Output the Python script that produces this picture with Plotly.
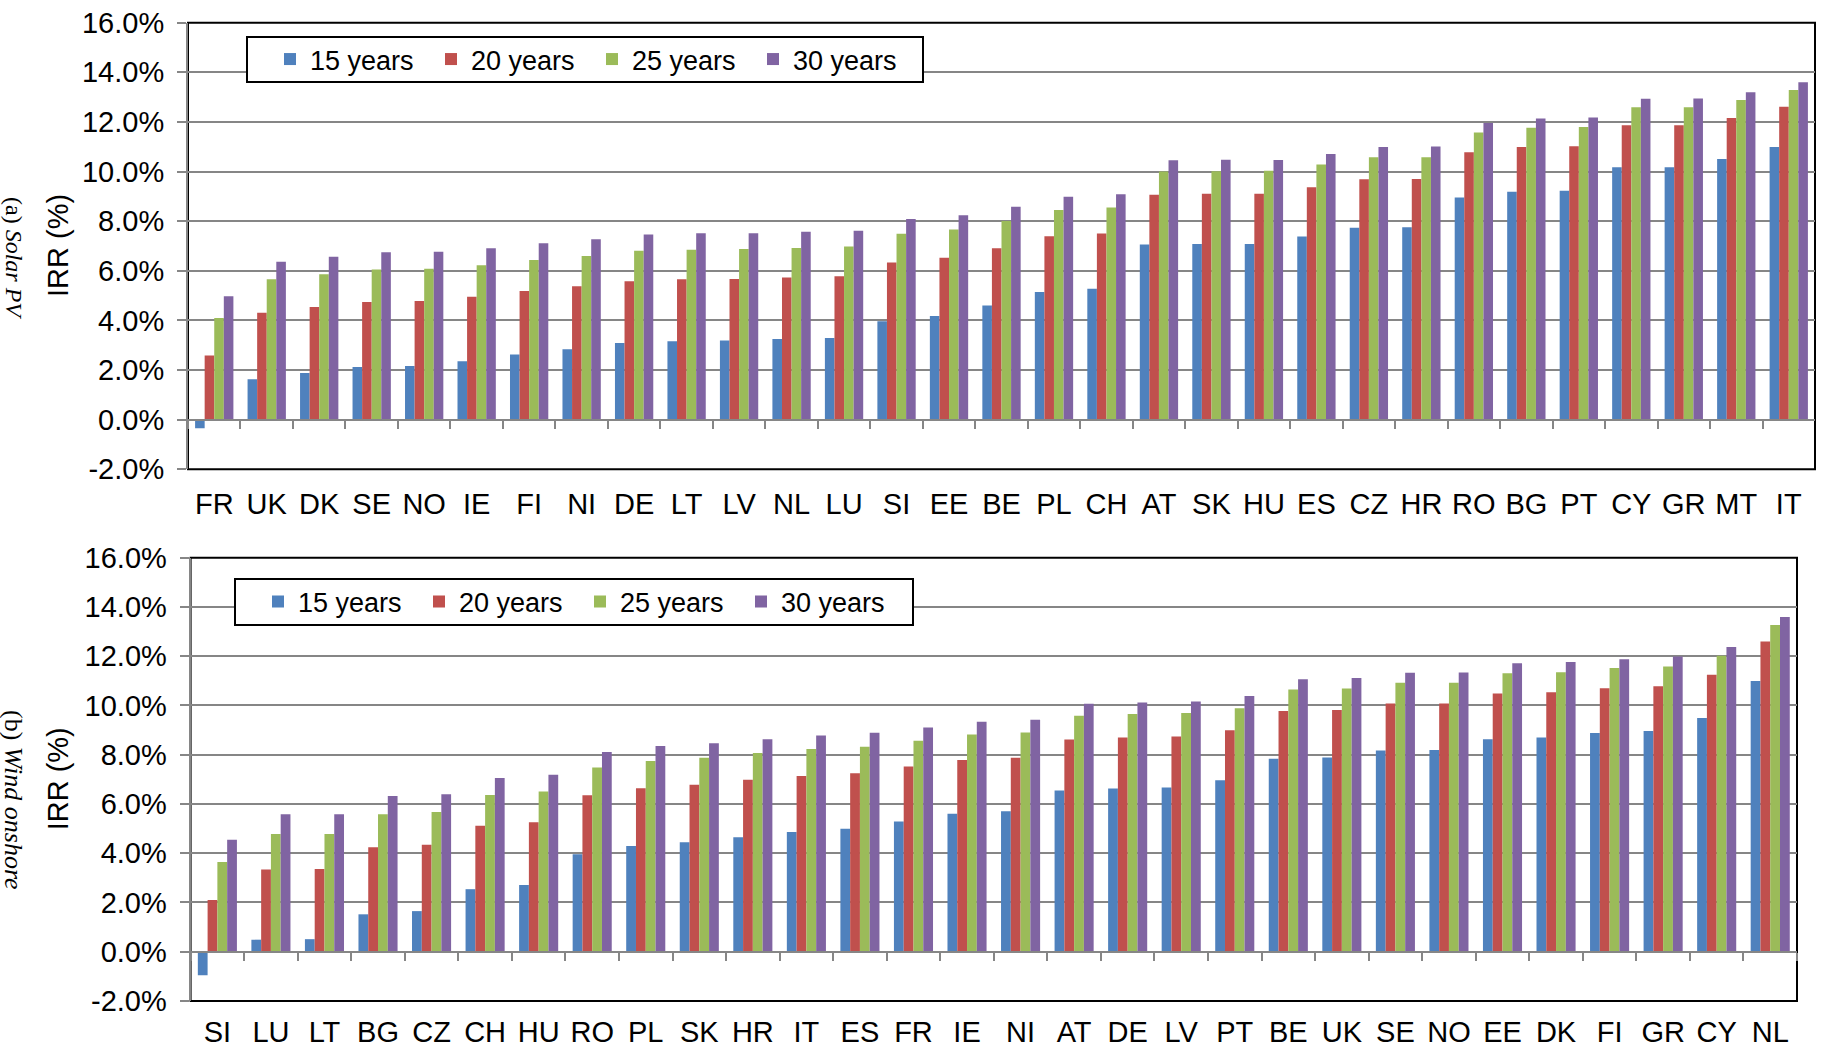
import plotly.graph_objects as go

W, H = 1821, 1049

# ---- data -------------------------------------------------------------
solar_countries = ["FR", "UK", "DK", "SE", "NO", "IE", "FI", "NI", "DE", "LT",
                   "LV", "NL", "LU", "SI", "EE", "BE", "PL", "CH", "AT", "SK",
                   "HU", "ES", "CZ", "HR", "RO", "BG", "PT", "CY", "GR", "MT", "IT"]
solar_15 = [-0.35, 1.63, 1.88, 2.12, 2.16, 2.35, 2.63, 2.84, 3.09, 3.16,
            3.19, 3.25, 3.29, 3.97, 4.18, 4.60, 5.15, 5.28, 7.06, 7.08,
            7.08, 7.38, 7.74, 7.76, 8.95, 9.19, 9.23, 10.17, 10.17, 10.51, 10.99]
solar_20 = [2.59, 4.31, 4.54, 4.74, 4.78, 4.95, 5.19, 5.38, 5.58, 5.66,
            5.67, 5.73, 5.78, 6.34, 6.53, 6.91, 7.39, 7.50, 9.07, 9.11,
            9.11, 9.37, 9.69, 9.70, 10.78, 10.99, 11.02, 11.87, 11.87, 12.16, 12.61]
solar_25 = [4.10, 5.66, 5.86, 6.05, 6.08, 6.22, 6.44, 6.60, 6.81, 6.85,
            6.88, 6.92, 6.98, 7.49, 7.66, 8.01, 8.45, 8.55, 10.00, 10.01,
            10.03, 10.28, 10.58, 10.58, 11.57, 11.77, 11.80, 12.59, 12.59, 12.88, 13.29]
solar_30 = [4.97, 6.37, 6.57, 6.75, 6.77, 6.91, 7.11, 7.27, 7.46, 7.51,
            7.51, 7.57, 7.61, 8.09, 8.24, 8.58, 8.98, 9.09, 10.46, 10.48,
            10.47, 10.71, 10.99, 11.01, 11.96, 12.14, 12.18, 12.93, 12.94, 13.20, 13.60]

wind_countries = ["SI", "LU", "LT", "BG", "CZ", "CH", "HU", "RO", "PL", "SK",
                  "HR", "IT", "ES", "FR", "IE", "NI", "AT", "DE", "LV", "PT",
                  "BE", "UK", "SE", "NO", "EE", "DK", "FI", "GR", "CY", "NL"]
wind_15 = [-0.95, 0.49, 0.51, 1.52, 1.65, 2.54, 2.71, 3.96, 4.29, 4.45,
           4.65, 4.86, 4.99, 5.29, 5.60, 5.70, 6.55, 6.63, 6.67, 6.96,
           7.84, 7.89, 8.17, 8.19, 8.63, 8.70, 8.88, 8.96, 9.49, 10.99]
wind_20 = [2.10, 3.34, 3.36, 4.24, 4.34, 5.12, 5.26, 6.35, 6.64, 6.78,
           6.98, 7.14, 7.25, 7.52, 7.79, 7.88, 8.62, 8.70, 8.74, 8.99,
           9.78, 9.82, 10.08, 10.08, 10.49, 10.54, 10.70, 10.78, 11.25, 12.60]
wind_25 = [3.64, 4.78, 4.78, 5.58, 5.67, 6.36, 6.51, 7.48, 7.75, 7.88,
           8.07, 8.23, 8.32, 8.57, 8.82, 8.90, 9.58, 9.65, 9.69, 9.89,
           10.65, 10.69, 10.92, 10.92, 11.31, 11.35, 11.52, 11.58, 12.02, 13.27]
wind_30 = [4.55, 5.58, 5.58, 6.32, 6.40, 7.05, 7.19, 8.11, 8.35, 8.47,
           8.63, 8.78, 8.89, 9.11, 9.34, 9.42, 10.07, 10.12, 10.16, 10.38,
           11.06, 11.12, 11.33, 11.34, 11.71, 11.76, 11.88, 11.99, 12.37, 13.59]

series_names = ["15 years", "20 years", "25 years", "30 years"]
series_colors = ["#4F81BD", "#C0504D", "#9BBB59", "#8064A2"]

y_tick_vals = [-2, 0, 2, 4, 6, 8, 10, 12, 14, 16]
y_tick_text = ["-2.0%", "0.0%", "2.0%", "4.0%", "6.0%", "8.0%",
               "10.0%", "12.0%", "14.0%", "16.0%"]
y_range = [-2, 16]

panel_labels = ["(a) <i>Solar PV</i>", "(b) <i>Wind onshore</i>"]
y_title = "IRR (%)"

# ---- layout geometry (pixels) -----------------------------------------
FONT = "Liberation Sans, Arial, sans-serif"
SERIF = "Liberation Serif, Times New Roman, serif"
GRID = "#868686"

def px_x(v):
    return v / W

def px_y(v):
    return 1 - v / H

panels = [
    dict(x0=188, x1=1815, y0=22.7, y1=469.3, leg=(247, 37, 923, 82),
         cap=258, cap_size=24, label_pad=9),
    dict(x0=190.6, x1=1797, y0=557.7, y1=1001, leg=(235, 579, 913, 625),
         cap=800, cap_size=26, label_pad=5),
]

fig = go.Figure()

datasets = [
    (solar_countries, [solar_15, solar_20, solar_25, solar_30]),
    (wind_countries, [wind_15, wind_20, wind_25, wind_30]),
]

layout = dict(
    width=W, height=H,
    margin=dict(l=0, r=0, t=0, b=0),
    paper_bgcolor="white", plot_bgcolor="white",
    barmode="group", bargap=0.27, bargroupgap=0.0,
    showlegend=True,
    font=dict(family=FONT, color="black"),
)
shapes = []
annotations = []

for i, (cats, vals) in enumerate(datasets):
    xa = "x" if i == 0 else "x2"
    ya = "y" if i == 0 else "y2"
    xz = "x3" if i == 0 else "x4"
    leg = "legend" if i == 0 else "legend2"
    p = panels[i]

    for name, color, v in zip(series_names, series_colors, vals):
        fig.add_trace(go.Bar(
            x=cats, y=v, name=name, marker=dict(color=color, line=dict(width=0)),
            xaxis=xa, yaxis=ya, legend=leg,
        ))
    # carrier for the zero-line axis with category boundary ticks
    fig.add_trace(go.Scatter(
        x=cats, y=[0] * len(cats), mode="markers", marker=dict(opacity=0),
        xaxis=xz, yaxis=ya, showlegend=False, hoverinfo="skip",
    ))

    xd = [px_x(p["x0"]), px_x(p["x1"])]
    yd = [px_y(p["y1"]), px_y(p["y0"])]
    zero_pos = yd[0] + (yd[1] - yd[0]) * (0 - y_range[0]) / (y_range[1] - y_range[0])
    xkey = "xaxis" if i == 0 else "xaxis2"
    ykey = "yaxis" if i == 0 else "yaxis2"
    zkey = "xaxis3" if i == 0 else "xaxis4"

    layout[xkey] = dict(
        domain=xd, anchor=ya, type="category", categoryarray=cats,
        categoryorder="array", range=[-0.5, len(cats) - 0.5],
        showline=False, showgrid=False, zeroline=False,
        ticks="outside", ticklen=p["label_pad"], tickcolor="rgba(0,0,0,0)",
        tickfont=dict(size=29, family=FONT, color="black"),
        automargin=False,
    )
    layout[zkey] = dict(
        overlaying=xa, anchor="free", position=zero_pos,
        type="category", categoryarray=cats, categoryorder="array",
        range=[-0.5, len(cats) - 0.5],
        showline=True, linecolor=GRID, linewidth=2,
        showgrid=False, zeroline=False,
        ticks="outside", tickson="boundaries", ticklen=8, tickwidth=2,
        tickcolor=GRID, showticklabels=False,
    )
    layout[ykey] = dict(
        domain=yd, anchor=xa, range=y_range,
        tickvals=y_tick_vals, ticktext=y_tick_text,
        showgrid=True, gridcolor=GRID, gridwidth=2, zeroline=False,
        showline=True, linecolor=GRID, linewidth=2,
        ticks="outside", ticklen=9, tickwidth=2, tickcolor=GRID,
        ticklabelstandoff=7,
        tickfont=dict(size=29, family=FONT, color="black"),
        automargin=False,
    )
    # plot frame
    shapes.append(dict(
        type="rect", xref=f"{xa} domain", yref=f"{ya} domain",
        x0=0, x1=1, y0=0, y1=1, line=dict(color="black", width=2),
        fillcolor="rgba(0,0,0,0)", layer="below",
    ))
    # legend frame
    lx0, ly0, lx1, ly1 = p["leg"]
    shapes.append(dict(
        type="rect", xref="paper", yref="paper",
        x0=px_x(lx0), x1=px_x(lx1), y0=px_y(ly1), y1=px_y(ly0),
        line=dict(color="black", width=2), fillcolor="white", layer="above",
    ))
    layout[leg] = dict(
        orientation="h", x=px_x(lx0 + 23), xanchor="left",
        y=px_y((ly0 + ly1) / 2), yanchor="middle",
        bgcolor="rgba(0,0,0,0)", borderwidth=0,
        font=dict(size=27, family=FONT, color="black"),
        entrywidth=116, entrywidthmode="pixels", itemclick=False,
    )
    # axis title and panel caption
    ymid = (p["y0"] + p["y1"]) / 2
    annotations.append(dict(
        text=y_title, xref="paper", yref="paper", x=px_x(58), y=px_y(ymid),
        textangle=-90, showarrow=False, xanchor="center", yanchor="middle",
        font=dict(size=29, family=FONT, color="black"),
    ))
    annotations.append(dict(
        text=panel_labels[i], xref="paper", yref="paper", x=px_x(14), y=px_y(p["cap"]),
        textangle=90, showarrow=False, xanchor="center", yanchor="middle",
        font=dict(size=p["cap_size"], family=SERIF, color="black"),
    ))

layout["shapes"] = shapes
layout["annotations"] = annotations
fig.update_layout(**layout)

fig.write_html("out.html")
